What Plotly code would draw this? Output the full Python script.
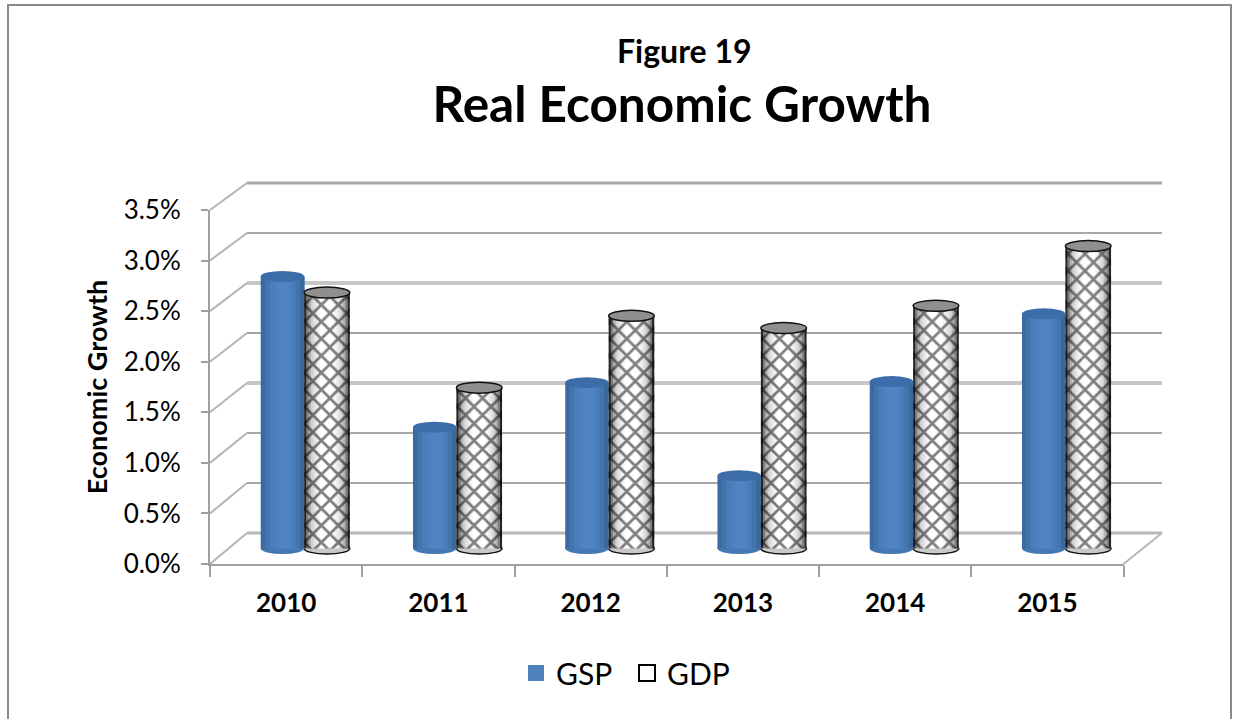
import plotly.graph_objects as go

years = ["2010", "2011", "2012", "2013", "2014", "2015"]
gsp = [2.69, 1.20, 1.64, 0.72, 1.65, 2.32]
gdp = [2.53, 1.59, 2.30, 2.18, 2.40, 2.99]
y_ticks = [0, 0.5, 1, 1.5, 2, 2.5, 3, 3.5]

W, H = 1233, 719
FONT = "Lato"
px = lambda v: v / W
py = lambda v: 1 - v / H

# geometry of the pseudo-3D box, in pixels
F_L, F_R, F_B, F_T = 210, 1123.5, 564, 210      # front plane
B_L, B_R, B_B, B_T = 247, 1162, 533, 183        # back wall
M_L, M_R, M_B, M_T = 228, 1141.5, 548.5, 194.5  # plane holding the cylinders
Y_MIN = -0.2
unit = (M_B - M_T) / 3.5
xs = list(range(len(years)))
fy = lambda t: F_B + (F_T - F_B) * t / 3.5
by = lambda t: B_B + (B_T - B_B) * t / 3.5

fig = go.Figure()

# GSP cylinder body: left-to-right shading
gsp_shades = ["#3a6aa2", "#4274ae", "#497cb9", "#4d80be", "#4f83c2", "#5084c3", "#4e82c0", "#4a7cb8", "#4374ac", "#3a689c"]
W_GSP = 0.285
dw = W_GSP / len(gsp_shades)
for k, c in enumerate(gsp_shades):
    fig.add_trace(go.Bar(x=xs, y=gsp, width=W_GSP - k * dw, offset=-W_GSP + k * dw,
                         marker=dict(color=c, line=dict(width=0)), showlegend=False, hoverinfo="skip"))

# GDP cylinder body: hatching then edge shading
W_GDP = 0.30
fig.add_trace(go.Bar(x=xs, y=gdp, width=W_GDP, offset=0,
                     marker=dict(color="white", line=dict(width=0),
                                 pattern=dict(shape="x", size=12, solidity=0.4, fgcolor="#000000", bgcolor="white")),
                     showlegend=False, hoverinfo="skip"))
gdp_alpha = [0.85, 0.5, 0.3, 0.18, 0.12, 0.07, 0.03, 0, 0, 0, 0, 0, 0, 0.03, 0.07, 0.12, 0.18, 0.3, 0.5, 0.85]
de = W_GDP / len(gdp_alpha)
for k, a in enumerate(gdp_alpha):
    if a:
        fig.add_trace(go.Bar(x=xs, y=gdp, width=de, offset=k * de,
                             marker=dict(color=f"rgba(0,0,0,{a})", line=dict(width=0)),
                             showlegend=False, hoverinfo="skip"))

# legend entries
fig.add_trace(go.Scatter(x=[None], y=[None], name="GSP", mode="markers",
                         marker=dict(symbol="square", size=20, color="#4f81bd")))
fig.add_trace(go.Scatter(x=[None], y=[None], name="GDP", mode="markers",
                         marker=dict(symbol="square", size=18, color="white", line=dict(color="black", width=2))))
# carrier for the front axes
fig.add_trace(go.Scatter(x=[0], y=[0], xaxis="x2", yaxis="y2", mode="markers",
                         marker=dict(size=1, opacity=0), showlegend=False, hoverinfo="skip"))

shapes = []
# outer chart frame
shapes.append(dict(type="path", xref="paper", yref="paper", layer="below",
                   path=f"M{px(8)},{py(719)} L{px(8)},{py(5)} L{px(1231)},{py(5)} L{px(1231)},{py(719)}",
                   line=dict(color="#8a8a8a", width=2)))
# back-wall gridlines and their side-wall diagonals
grid_style = {0: ("#b8b8b8", 3), 0.5: ("#a8a8a8", 2), 1: ("#a8a8a8", 2), 1.5: ("#c6c6c6", 4),
              2: ("#a0a0a0", 2), 2.5: ("#c6c6c6", 4), 3: ("#a8a8a8", 2), 3.5: ("#a8a8a8", 3)}
for t in y_ticks:
    c, w = grid_style[t]
    shapes.append(dict(type="line", xref="paper", yref="paper", layer="below",
                       x0=px(B_L), x1=px(B_R), y0=py(by(t)), y1=py(by(t)), line=dict(color=c, width=w)))
    shapes.append(dict(type="line", xref="paper", yref="paper", layer="below",
                       x0=px(F_L), x1=px(B_L), y0=py(fy(t)), y1=py(by(t)), line=dict(color="#b4b4b4", width=2)))
# floor right edge
shapes.append(dict(type="line", xref="paper", yref="paper", layer="below",
                   x0=px(F_R), x1=px(B_R), y0=py(F_B), y1=py(B_B), line=dict(color="#b8b8b8", width=2)))


def ellipse(x, y, half, fill, line, width, layer):
    return dict(type="circle", xref="x", yref="y", xsizemode="pixel", ysizemode="pixel",
                xanchor=x, yanchor=y, x0=-half, x1=half, y0=-5.5, y1=5.5, layer=layer,
                fillcolor=fill, line=dict(color=line, width=width))


half_gsp = W_GSP * (M_R - M_L) / 6 / 2
half_gdp = W_GDP * (M_R - M_L) / 6 / 2
for i in xs:
    # bottoms
    shapes.append(ellipse(i - W_GSP / 2, 0, half_gsp, "#4478b4", "#4478b4", 0, "below"))
    shapes.append(ellipse(i + W_GDP / 2, 0, half_gdp, "#c8c8c8", "#111111", 1.5, "below"))
    # tops
    shapes.append(ellipse(i - W_GSP / 2, gsp[i], half_gsp, "#3c6da8", "#3c6da8", 0, "above"))
    shapes.append(ellipse(i + W_GDP / 2, gdp[i], half_gdp, "#8f8f8f", "#111111", 1.5, "above"))

axis_gray = "#a0a0a0"
fig.update_layout(
    width=W, height=H, margin=dict(l=0, r=0, t=0, b=0, autoexpand=False),
    paper_bgcolor="white", plot_bgcolor="rgba(0,0,0,0)",
    barmode="overlay", shapes=shapes,
    font=dict(family=FONT, color="black"),
    title=dict(text="<b>Real Economic Growth</b>", x=682 / W, xanchor="center", xref="paper",
               y=py(105), yanchor="middle", yref="paper", font=dict(size=49.5, family=FONT)),
    annotations=[dict(text="<b>Figure 19</b>", x=684 / W, y=py(50), xref="paper", yref="paper",
                      xanchor="center", yanchor="middle", showarrow=False, font=dict(size=32, family=FONT))],
    xaxis=dict(domain=[px(M_L), px(M_R)], range=[-0.5, 5.5], visible=False, fixedrange=True),
    yaxis=dict(domain=[py(M_B + unit * -Y_MIN), py(M_T)], range=[Y_MIN, 3.5], visible=False, fixedrange=True),
    xaxis2=dict(domain=[px(F_L), px(F_R)], range=[-0.5, 5.5], anchor="y2",
                tickmode="array", tickvals=xs, ticktext=[f"<b>{y}</b>" for y in years], ticks="", ticklen=0,
                ticklabelstandoff=15,
                tickfont=dict(size=26, family=FONT), showgrid=False, zeroline=False,
                showline=True, linecolor=axis_gray, linewidth=2, fixedrange=True,
                minor=dict(tickmode="array", tickvals=[i - 0.5 for i in range(len(years) + 1)], ticks="outside",
                           ticklen=11, tickwidth=2, tickcolor=axis_gray, showgrid=False)),
    yaxis2=dict(domain=[py(F_B), py(F_T)], range=[0, 3.5], anchor="x2",
                tickmode="array", tickvals=y_ticks, ticktext=[f"{t:.1f}%" for t in y_ticks],
                ticks="outside", ticklen=7, tickwidth=2, tickcolor=axis_gray, ticklabelstandoff=15,
                tickfont=dict(size=26, family=FONT), showgrid=False, zeroline=False,
                showline=True, linecolor=axis_gray, linewidth=2, fixedrange=True,
                title=dict(text="<b>Economic Growth</b>", font=dict(size=27, family=FONT), standoff=8)),
    legend=dict(orientation="h", x=(528 + 726) / 2 / W, xanchor="center", y=py(673), yanchor="middle",
                font=dict(size=30, family=FONT), itemsizing="trace", bgcolor="rgba(0,0,0,0)",
                entrywidth=66, entrywidthmode="pixels"),
)

fig.write_html("out.html", config=dict(displayModeBar=False),
               post_script="document.body.style.margin='0';document.documentElement.style.overflow='hidden';")
